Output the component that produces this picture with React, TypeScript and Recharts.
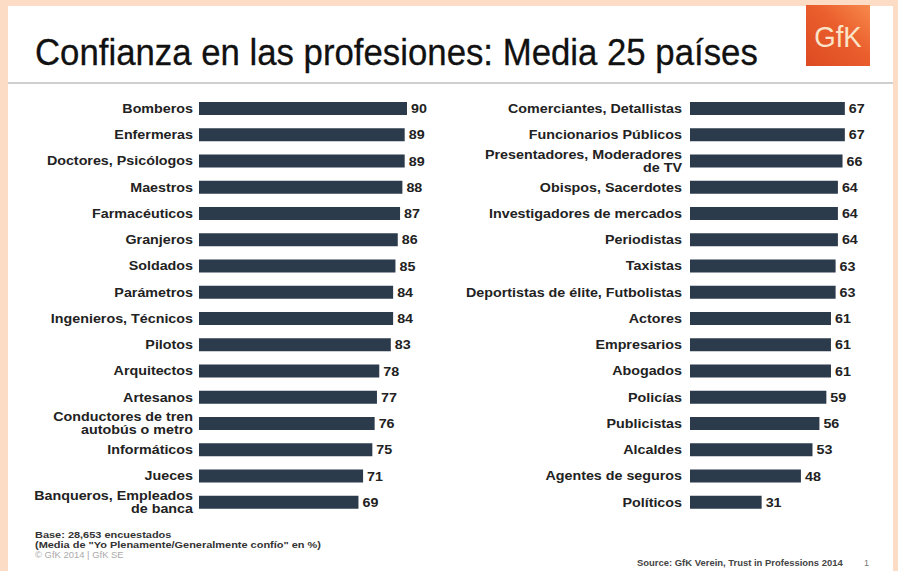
import React from "react";
import { BarChart, Bar, XAxis, YAxis, LabelList } from "recharts";

const leftLabels = [
  "Bomberos",
  "Enfermeras",
  "Doctores, Psicólogos",
  "Maestros",
  "Farmacéuticos",
  "Granjeros",
  "Soldados",
  "Parámetros",
  "Ingenieros, Técnicos",
  "Pilotos",
  "Arquitectos",
  "Artesanos",
  "Conductores de tren\nautobús o metro",
  "Informáticos",
  "Jueces",
  "Banqueros, Empleados\nde banca",
];
const leftValues = [90, 89, 89, 88, 87, 86, 85, 84, 84, 83, 78, 77, 76, 75, 71, 69];

const rightLabels = [
  "Comerciantes, Detallistas",
  "Funcionarios Públicos",
  "Presentadores, Moderadores\nde TV",
  "Obispos, Sacerdotes",
  "Investigadores de mercados",
  "Periodistas",
  "Taxistas",
  "Deportistas de élite, Futbolistas",
  "Actores",
  "Empresarios",
  "Abogados",
  "Policías",
  "Publicistas",
  "Alcaldes",
  "Agentes de seguros",
  "Políticos",
];
const rightValues = [67, 67, 66, 64, 64, 64, 63, 63, 61, 61, 61, 59, 56, 53, 48, 31];

const FONT = "'Liberation Sans', Arial, Helvetica, sans-serif";
const BAR = "#2c3b4c";
const PEACH = "#fcdcc4";
const TEXT = "#222";

const leftData = leftLabels.map((name, i) => ({ name, value: leftValues[i] }));
const rightData = rightLabels.map((name, i) => ({ name, value: rightValues[i] }));

// category label, may hold two lines
function NameTick({ x, y, payload }: any) {
  const lines = String(payload.value).split("\n");
  const lh = 13;
  return (
    <g transform={`translate(${x},${y})`}>
      <text
        transform="scale(1.1,1)"
        textAnchor="end"
        fontSize={13}
        fontWeight="bold"
        fill={TEXT}
        fontFamily={FONT}
      >
        {lines.map((l, i) => (
          <tspan key={i} x={0} y={(i - (lines.length - 1) / 2) * lh} dy="0.36em">
            {l}
          </tspan>
        ))}
      </text>
    </g>
  );
}

function ValueLabel({ x, y, width, height, value }: any) {
  const tx = Number(x) + Number(width) + 4;
  const ty = Number(y) + Number(height) / 2;
  return (
    <g transform={`translate(${tx},${ty})`}>
      <text
        transform="scale(1.1,1)"
        fontSize={13}
        fontWeight="bold"
        fill={TEXT}
        fontFamily={FONT}
        dy="0.36em"
      >
        {value}
      </text>
    </g>
  );
}

function Panel({ data, width, axisWidth, tickMargin }: any) {
  return (
    <BarChart
      width={width}
      height={520}
      data={data}
      layout="vertical"
      margin={{ top: 95, right: width - axisWidth - 208, bottom: 5, left: 0 }}
    >
      <XAxis type="number" domain={[0, 90]} hide />
      <YAxis
        type="category"
        dataKey="name"
        width={axisWidth}
        axisLine={false}
        tickLine={false}
        tickSize={6}
        tickMargin={tickMargin}
        interval={0}
        tick={<NameTick />}
      />
      <Bar dataKey="value" fill={BAR} barSize={13} isAnimationActive={false}>
        <LabelList dataKey="value" content={<ValueLabel />} />
      </Bar>
    </BarChart>
  );
}

export default function App() {
  return (
    <div
      style={{
        position: "absolute",
        left: 0,
        top: 0,
        width: 898,
        height: 571,
        background: PEACH,
        overflow: "hidden",
        fontFamily: FONT,
      }}
    >
      <div style={{ position: "absolute", left: 8, top: 6, width: 885, height: 565, background: "#fff" }} />

      <svg width={898} height={571} style={{ position: "absolute", left: 0, top: 0 }}>
        <defs>
          <linearGradient id="gfk" x1="1" y1="0" x2="0" y2="1">
            <stop offset="0%" stopColor="#f7894c" />
            <stop offset="45%" stopColor="#ea5d2c" />
            <stop offset="100%" stopColor="#dc4a22" />
          </linearGradient>
        </defs>
        <g transform="translate(35,65) scale(0.94,1)">
          <text x={0} y={0} fontSize={37} fill="#111" stroke="#111" strokeWidth={0.3} fontFamily={FONT}>
            Confianza en las profesiones: Media 25 países
          </text>
        </g>
        <rect x={8} y={82} width={885} height={2} fill="#cfcfcf" />
        <rect x={806} y={5} width={64} height={61} fill="url(#gfk)" />
        <g transform="translate(838,47) scale(0.92,1)">
          <text x={0} y={0} fontSize={30} textAnchor="middle" fill="#fbe3c8" fontFamily={FONT}>
            GfK
          </text>
        </g>

        <g fontFamily={FONT} fontSize={9} fontWeight="bold">
          <g transform="translate(35,538) scale(1.22,1)">
            <text x={0} y={0} fill="#333">Base: 28,653 encuestados</text>
          </g>
          <g transform="translate(35,548) scale(1.22,1)">
            <text x={0} y={0} fill="#333">(Media de "Yo Plenamente/Generalmente confío" en %)</text>
          </g>
          <g transform="translate(35,558) scale(1.05,1)">
            <text x={0} y={0} fill="#aaa" fontWeight="normal">© GfK 2014 | GfK SE</text>
          </g>
          <g transform="translate(637,566) scale(1.05,1)">
            <text x={0} y={0} fill="#444">Source: GfK Verein, Trust in Professions 2014</text>
          </g>
          <text x={864} y={566} fill="#777" fontWeight="normal">
            1
          </text>
        </g>
      </svg>

      <div style={{ position: "absolute", left: 0, top: 0 }}>
        <Panel data={leftData} width={437} axisWidth={199} tickMargin={0} />
      </div>
      <div style={{ position: "absolute", left: 450, top: 0 }}>
        <Panel data={rightData} width={448} axisWidth={240} tickMargin={2} />
      </div>
    </div>
  );
}
